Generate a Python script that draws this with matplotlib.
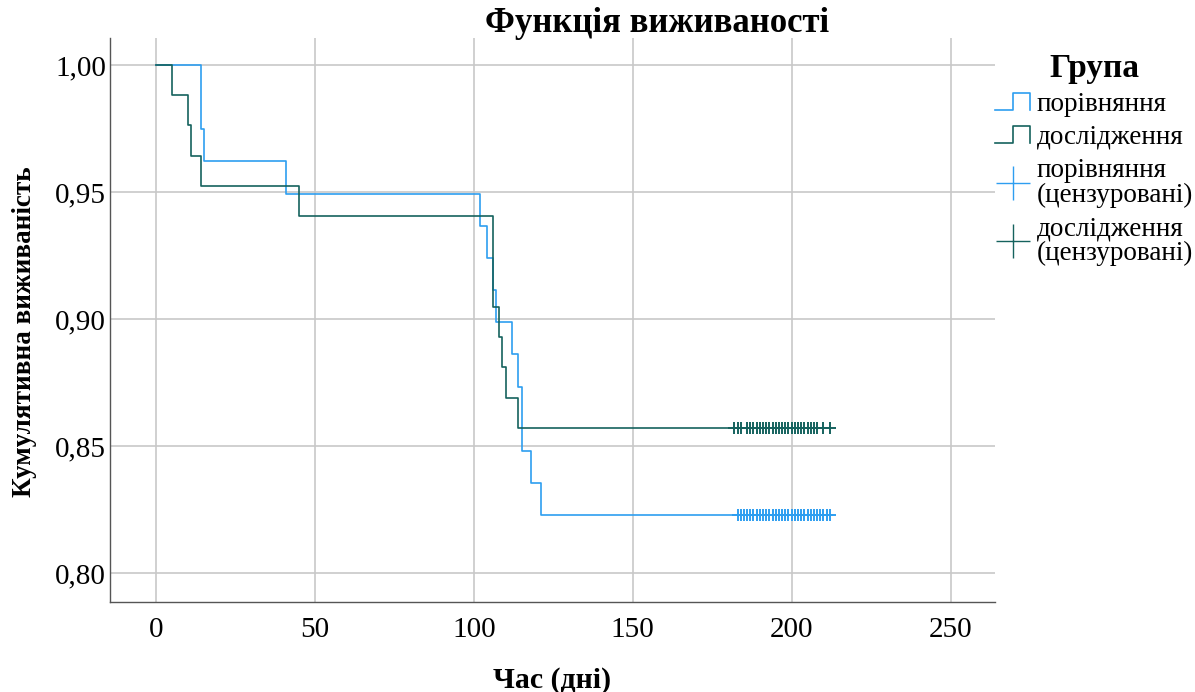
import numpy as np
import matplotlib
matplotlib.use("Agg")
from matplotlib import pyplot as plt
from matplotlib.lines import Line2D
from matplotlib.legend_handler import HandlerLine2D

plt.rcParams['font.family'] = ['Liberation Serif', 'DejaVu Serif']

# група порівняння (n=79)
n_por = 79
ev_por = [14, 14, 15, 41, 102, 104, 106, 107, 112, 114, 115, 115, 118, 121]
cens_por = [183, 184, 184, 185, 185, 186, 186, 187, 187, 188, 188, 189, 189, 190, 190,
            191, 191, 192, 192, 193, 193, 194, 194, 195, 195, 196, 196, 197, 197, 198,
            198, 199, 199, 200, 200, 201, 201, 202, 202, 203, 203, 204, 204, 205, 205,
            206, 206, 207, 207, 208, 208, 209, 209, 210, 210, 211, 211, 212, 212, 186,
            190, 195, 200, 205, 210]

# група дослідження (n=84)
n_dos = 84
ev_dos = [5, 10, 11, 14, 45, 106, 106, 106, 108, 109, 110, 114]
cens_dos = [182, 182, 183, 183, 184, 184, 186, 186, 187, 187, 188, 188, 189, 189, 190,
            190, 191, 191, 192, 192, 192, 193, 193, 193, 194, 194, 194, 195, 195, 195,
            196, 196, 196, 197, 197, 197, 198, 198, 198, 199, 199, 199, 200, 200, 200,
            201, 201, 202, 202, 203, 203, 204, 204, 205, 205, 206, 206, 207, 207, 208,
            208, 210, 210, 212, 192, 194, 196, 198, 200, 202, 204, 206]

c_por = '#2e9ef0'
c_dos = '#15625e'


def km(n, events, cens):
    # крива Каплана-Мейєра
    times = sorted(set(events))
    t = [0.0]
    s = [1.0]
    surv = 1.0
    allc = sorted(cens)
    for tt in times:
        removed = sum(1 for c in allc if c < tt)
        d = events.count(tt)
        r = n - removed - sum(1 for e in events if e < tt)
        surv = surv * (1 - d / r)
        t.append(tt)
        s.append(surv)
    t.append(max(allc))
    s.append(surv)
    return np.array(t), np.array(s), surv


class HandlerStep(HandlerLine2D):
    def create_artists(self, legend, orig_handle, xdescent, ydescent, width, height, fontsize, trans):
        x0 = -xdescent
        y0 = -ydescent
        xs = [x0, x0 + width * 0.5, x0 + width * 0.5, x0 + width, x0 + width]
        ys = [y0 + height * 0.05, y0 + height * 0.05, y0 + height * 0.95, y0 + height * 0.95, y0 + height * 0.05]
        ln = Line2D(xs, ys, color=orig_handle.get_color(), lw=orig_handle.get_linewidth())
        ln.set_transform(trans)
        return [ln]


fig = plt.figure(figsize=(11.95, 6.92), dpi=100)
ax = fig.add_axes([110 / 1195, 1 - 602 / 692, 885 / 1195, 564 / 692])

t1, s1, f1 = km(n_por, ev_por, cens_por)
t2, s2, f2 = km(n_dos, ev_dos, cens_dos)

l1, = ax.step(t1, s1, where='post', color=c_por, lw=1.2, zorder=3)
l2, = ax.step(t2, s2, where='post', color=c_dos, lw=1.2, zorder=3)
ax.plot(sorted(set(cens_por)), [f1] * len(set(cens_por)), ls='none', marker='+', ms=9, mew=1.4,
        color=c_por, zorder=4)
ax.plot(sorted(set(cens_dos)), [f2] * len(set(cens_dos)), ls='none', marker='+', ms=9, mew=1.4,
        color=c_dos, zorder=4)

ax.set_xlim(-14.5, 264)
ax.set_ylim(0.7886, 1.0106)
ax.set_xticks([0, 50, 100, 150, 200, 250])
ax.set_yticks([0.80, 0.85, 0.90, 0.95, 1.00])
ax.set_yticklabels(['0,80', '0,85', '0,90', '0,95', '1,00'])
ax.tick_params(length=0, labelsize=21)
ax.tick_params(axis='x', pad=11)
ax.tick_params(axis='y', pad=3)
ax.grid(True, color='#c8c8c8', lw=1.2)
ax.set_axisbelow(True)
for sp in ['top', 'right']:
    ax.spines[sp].set_visible(False)
for sp in ['left', 'bottom']:
    ax.spines[sp].set_color('#555555')
    ax.spines[sp].set_linewidth(1.0)

ax.set_xlabel('Час (дні)', fontsize=21.5, fontweight='bold', labelpad=17)
ax.set_ylabel('Кумулятивна виживаність', fontsize=19.5, fontweight='bold')
ax.yaxis.set_label_coords(-0.082, 0.479)
fig.text(657 / 1195, 1 - 24 / 692, 'Функція виживаності', fontsize=25, fontweight='bold',
         ha='center', va='center')

h3 = Line2D([], [], ls='none', marker='+', ms=24, mew=1.0, color=c_por)
h4 = Line2D([], [], ls='none', marker='+', ms=24, mew=1.0, color=c_dos)
leg = ax.legend([l1, l2, h3, h4],
                ['порівняння', 'дослідження', 'порівняння\n(цензуровані)', 'дослідження\n(цензуровані)'],
                handler_map={l1: HandlerStep(), l2: HandlerStep()},
                loc='upper left', bbox_to_anchor=(1.0, 0.974), frameon=False, fontsize=19.5,
                title='Група', handlelength=1.3, handletextpad=0.25, labelspacing=0.3,
                borderaxespad=0.0, borderpad=0.0)
leg.get_title().set_fontweight('bold')
leg.get_title().set_fontsize(24)
for txt in leg.get_texts():
    txt.set_linespacing(1.0)
leg._legend_box.align = 'center'

fig.savefig('out.png', dpi=100)
